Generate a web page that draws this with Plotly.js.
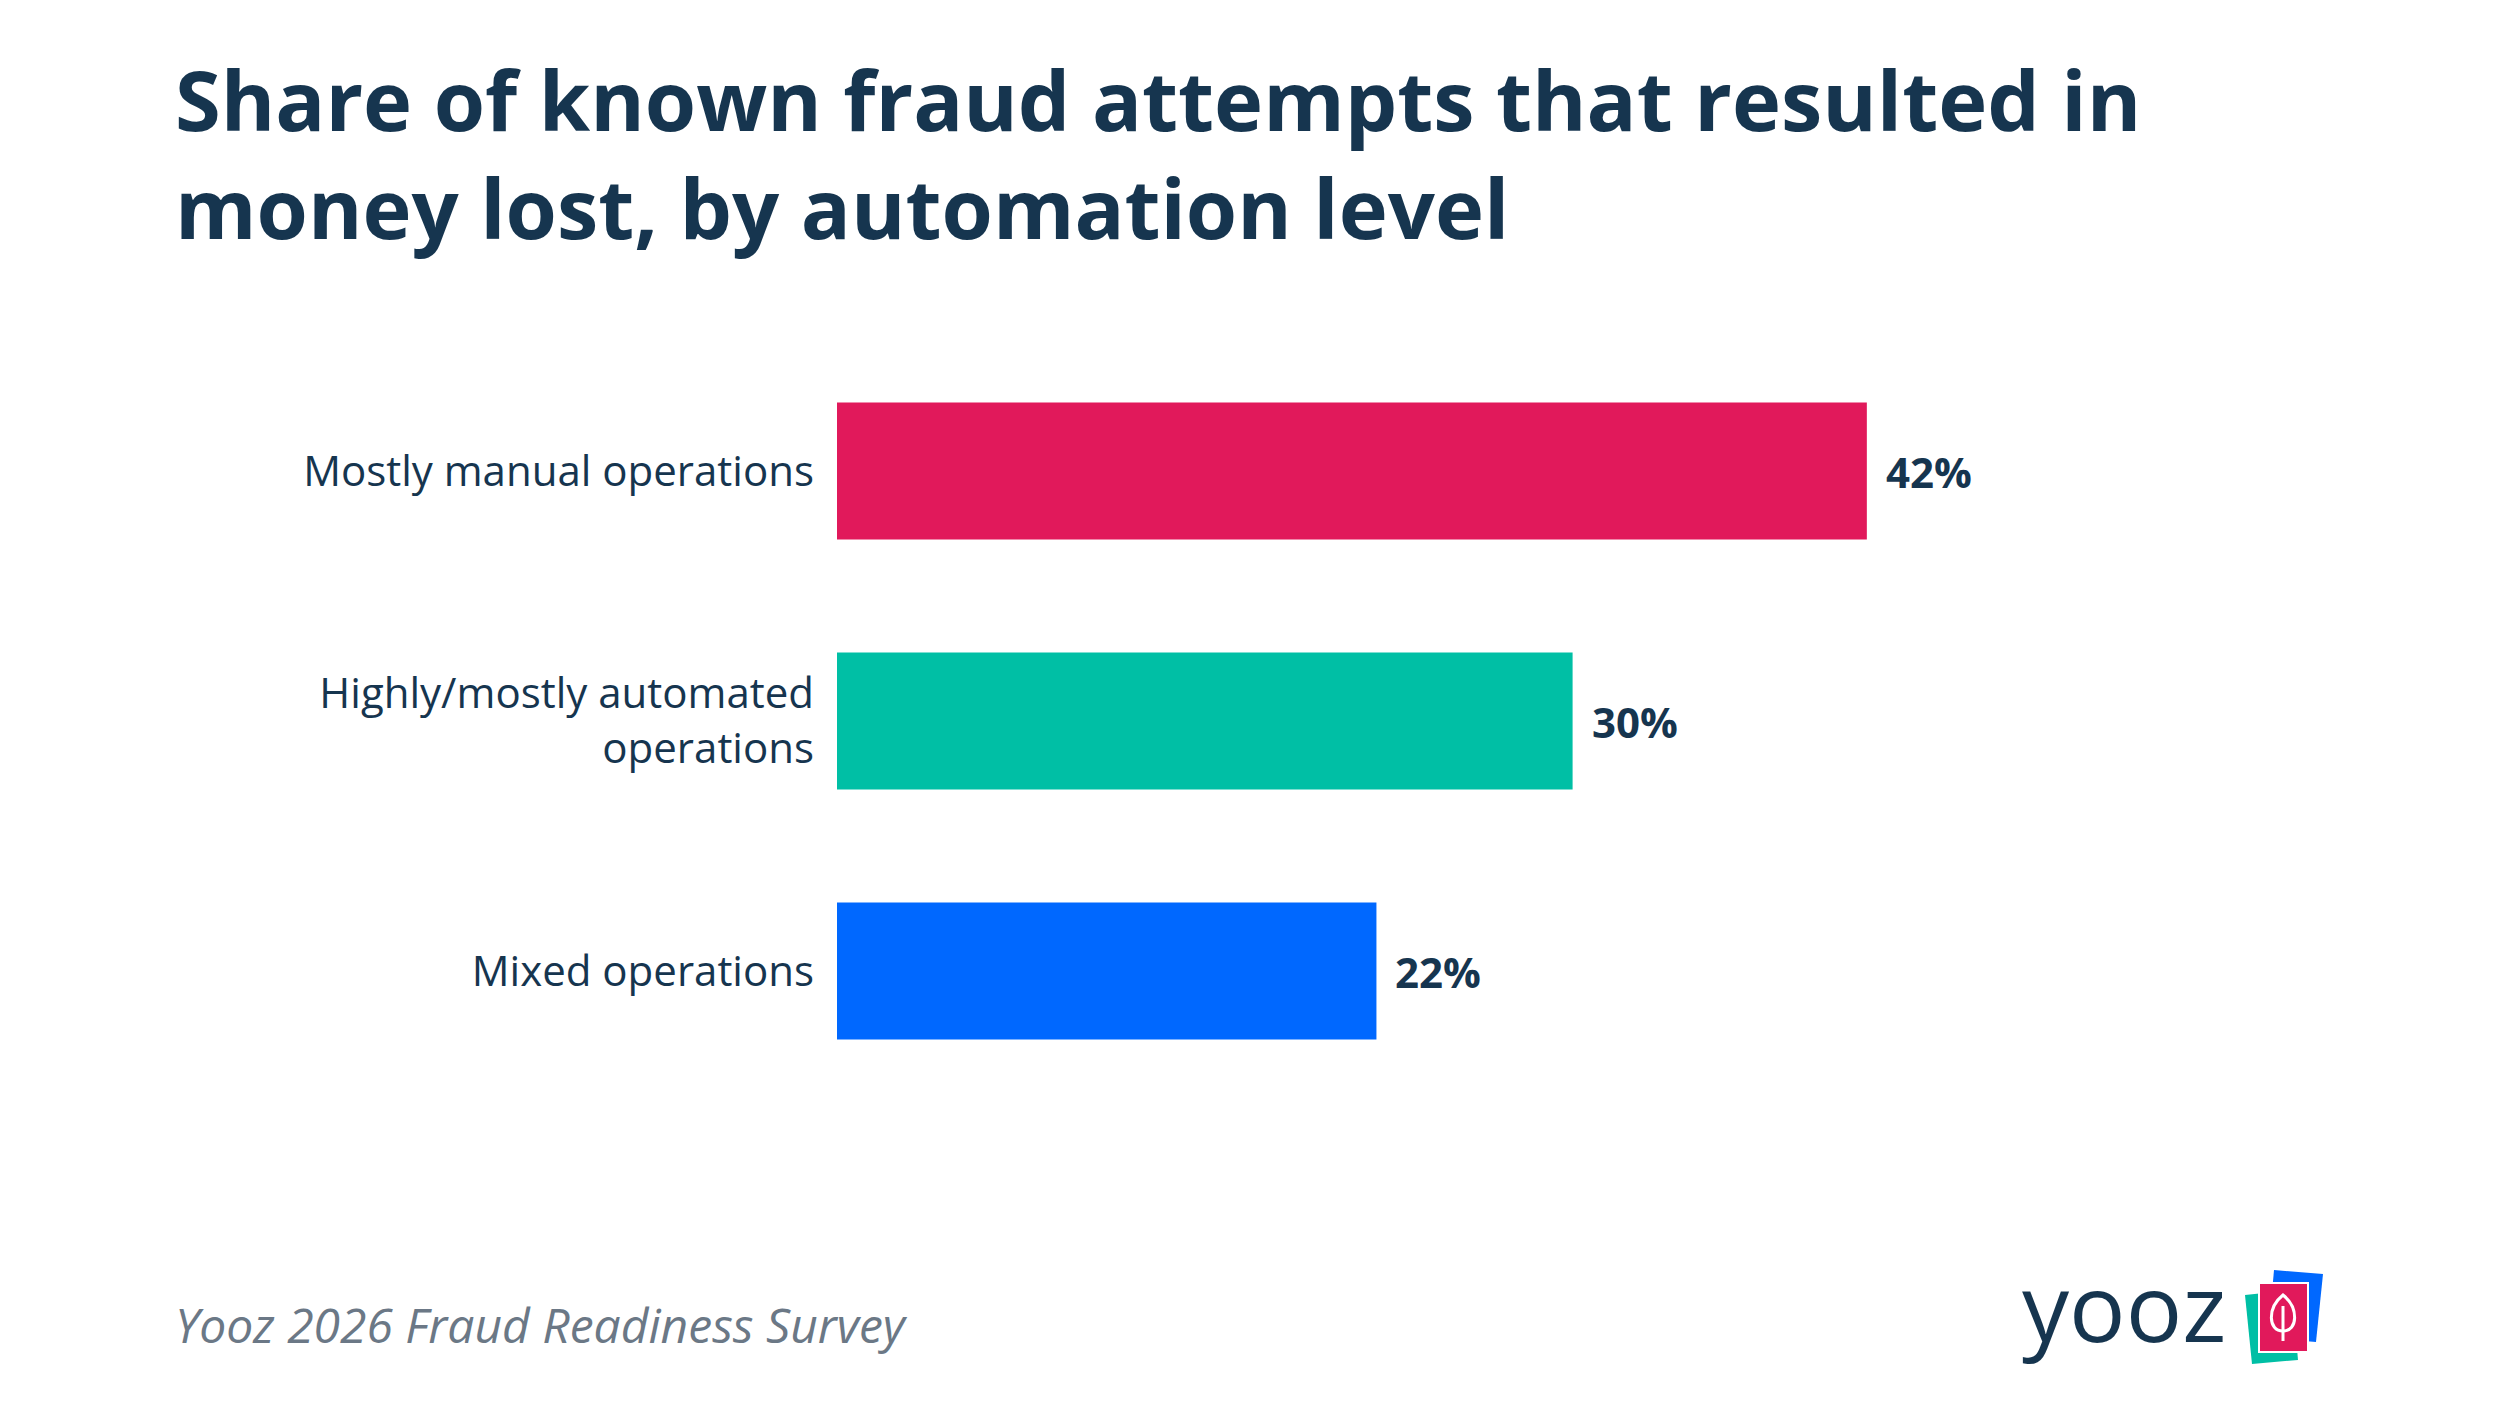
<!DOCTYPE html>
<html>
<head>
<meta charset="utf-8">
<script src="https://cdn.plot.ly/plotly-3.0.1.min.js"></script>
<style>
  html, body { margin: 0; padding: 0; background: #ffffff; }
  #chart { width: 2500px; height: 1407px; }
</style>
</head>
<body>
<div id="chart"></div>
<script>
// ---- Data ----
const categories = ["Mostly manual operations", "Highly/mostly automated<br>operations", "Mixed operations"];
const values = [42, 30, 22];
const barColors = ["#E1195B", "#00BFA5", "#0068FF"];
const valueLabels = ["42%", "30%", "22%"];
const titleText = "Share of known fraud attempts that resulted in<br>money lost, by automation level";
const sourceText = "Yooz 2026 Fraud Readiness Survey";
const logoText = "yooz";

// ---- Layout geometry ----
const WIDTH = 2500, HEIGHT = 1407;
const L = 837, T = 346, PW = 1471, PH = 750;
const NAVY = "#16354F";
const px = x => (x - L) / PW;
const py = y => (T + PH - y) / PH;
const P = (x, y) => px(x).toFixed(5) + "," + py(y).toFixed(5);

const trace = {
  type: "bar",
  orientation: "h",
  x: values,
  y: categories,
  width: 0.548,
  marker: { color: barColors, line: { width: 0 } },
  hoverinfo: "skip",
  showlegend: false
};

const valueAnnotations = values.map((v, i) => ({
  x: v, y: categories[i], xref: "x", yref: "y",
  text: "<b>" + valueLabels[i] + "</b>",
  showarrow: false, xanchor: "left", yanchor: "middle", xshift: 17,
  font: { family: "Open Sans", size: 42, color: NAVY }
}));

const otherAnnotations = [
  {
    xref: "paper", yref: "paper", x: px(173), y: py(1324),
    xanchor: "left", yanchor: "middle", showarrow: false,
    text: "<i>" + sourceText + "</i>",
    font: { family: "Open Sans", size: 48, color: "#6B7886" }
  },
  {
    xref: "paper", yref: "paper", x: px(2124), y: py(1306),
    xanchor: "center", yanchor: "middle", showarrow: false,
    text: logoText,
    font: { family: "Open Sans", size: 94, color: NAVY, weight: 500 }
  }
];

const shapes = [
  { type: "path", xref: "paper", yref: "paper", layer: "above",
    path: "M" + P(2245,1295) + " L" + P(2292,1290) + " L" + P(2298,1360) + " L" + P(2252,1364) + " Z",
    fillcolor: "#00BFA5", line: { width: 0 } },
  { type: "path", xref: "paper", yref: "paper", layer: "above",
    path: "M" + P(2274,1270) + " L" + P(2323,1274) + " L" + P(2316,1342) + " L" + P(2268,1338) + " Z",
    fillcolor: "#0068FF", line: { width: 0 } },
  { type: "path", xref: "paper", yref: "paper", layer: "above",
    path: "M" + P(2259,1283) + " L" + P(2308,1283) + " L" + P(2308,1352) + " L" + P(2259,1352) + " Z",
    fillcolor: "#E1195B", line: { color: "#ffffff", width: 2 } },
  { type: "path", xref: "paper", yref: "paper", layer: "above",
    path: "M" + P(2283,1295) + " C" + P(2299,1308) + " " + P(2298,1331) + " " + P(2283,1331) +
          " C" + P(2268,1331) + " " + P(2267,1308) + " " + P(2283,1295) + " Z",
    fillcolor: "rgba(0,0,0,0)", line: { color: "#ffffff", width: 3 } },
  { type: "line", xref: "paper", yref: "paper", layer: "above",
    x0: px(2283), y0: py(1306), x1: px(2283), y1: py(1341),
    line: { color: "#ffffff", width: 3 } }
];

const layout = {
  width: WIDTH, height: HEIGHT,
  paper_bgcolor: "#ffffff", plot_bgcolor: "#ffffff",
  margin: { l: L, r: WIDTH - L - PW, t: T, b: HEIGHT - T - PH, pad: 0 },
  title: {
    text: "<b>" + titleText + "</b>",
    x: 175 / WIDTH, xref: "container", xanchor: "left",
    y: 1 - 131 / HEIGHT, yref: "container", yanchor: "top",
    font: { family: "Open Sans", size: 83, color: NAVY }
  },
  xaxis: { range: [0, PW / 24.52], visible: false, showgrid: false, zeroline: false, fixedrange: true },
  yaxis: {
    type: "category", categoryorder: "array", categoryarray: categories,
    autorange: "reversed", showgrid: false, zeroline: false, showline: false,
    ticks: "", ticklabelstandoff: 22,
    tickfont: { family: "Open Sans", size: 42, color: NAVY }, fixedrange: true
  },
  bargap: 0.45,
  annotations: valueAnnotations.concat(otherAnnotations),
  shapes: shapes,
  showlegend: false,
  hovermode: false
};

Plotly.newPlot("chart", [trace], layout, { displayModeBar: false, staticPlot: true });
</script>
</body>
</html>
